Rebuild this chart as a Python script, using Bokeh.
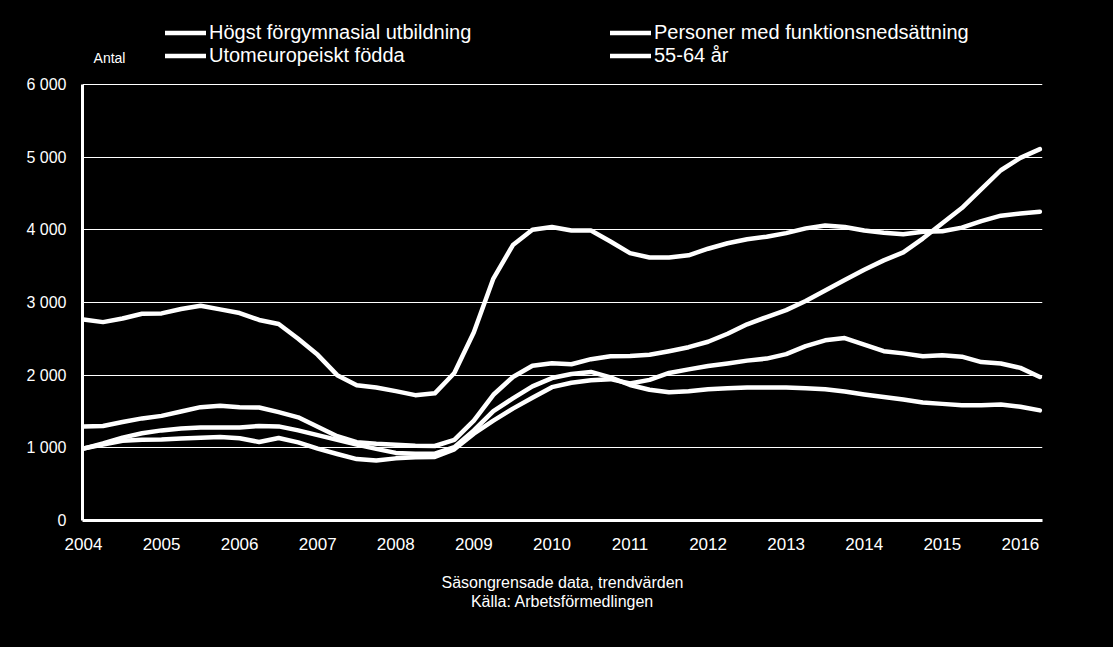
from bokeh.plotting import figure
from bokeh.models import Range1d, FixedTicker, Legend, LegendItem, Label
from bokeh.embed import file_html
from bokeh.resources import INLINE

# ---------------- data ----------------
years = ["2004", "2005", "2006", "2007", "2008", "2009", "2010",
         "2011", "2012", "2013", "2014", "2015", "2016"]
year_start_month = [0, 12, 24, 36, 48, 60, 72, 84, 96, 108, 120, 132, 144]

# quarterly observations, month index (0 = Jan 2004 ... 147 = Apr 2016)
month_index = list(range(0, 148, 3))

personer_funktionsnedsattning = [
    2765, 2730, 2780, 2845, 2850, 2910, 2955, 2905, 2855, 2760,
    2705, 2500, 2280, 2000, 1860, 1830, 1780, 1725, 1750, 2030,
    2590, 3330, 3790, 4000, 4040, 3990, 3990, 3840, 3680, 3620,
    3620, 3650, 3740, 3815, 3870, 3905, 3955, 4020, 4060, 4040,
    3990, 3960, 3940, 3975, 3980, 4030, 4120, 4195, 4225, 4250]

utomeuropeiskt_fodda = [
    1295, 1300, 1355, 1405, 1440, 1500, 1560, 1578, 1557, 1555,
    1492, 1420, 1290, 1160, 1078, 1055, 1042, 1028, 1025, 1110,
    1375, 1730, 1975, 2130, 2165, 2150, 2220, 2260, 2265, 2280,
    2330, 2385, 2460, 2570, 2700, 2800, 2895, 3020, 3165, 3310,
    3450, 3580, 3690, 3880, 4090, 4300, 4560, 4820, 4990, 5110]

hogst_forgymnasial = [
    990, 1045, 1098, 1112, 1115, 1128, 1140, 1150, 1132, 1080,
    1135, 1075, 990, 915, 845, 825, 855, 870, 875, 980,
    1195, 1375, 1540, 1690, 1835, 1895, 1930, 1945, 1885, 1935,
    2030, 2080, 2125, 2160, 2200, 2228, 2290, 2400, 2480, 2510,
    2420, 2330, 2300, 2260, 2275, 2255, 2180, 2160, 2100, 1975]

ar_55_64 = [
    990, 1060, 1140, 1200, 1240, 1265, 1280, 1280, 1280, 1302,
    1295, 1240, 1175, 1110, 1045, 985, 930, 920, 920, 1010,
    1240, 1505, 1680, 1845, 1960, 2015, 2045, 1970, 1865, 1800,
    1765, 1780, 1805, 1820, 1830, 1830, 1830, 1820, 1805, 1775,
    1735, 1700, 1665, 1625, 1605, 1585, 1585, 1595, 1565, 1515]

y_ticks = [0, 1000, 2000, 3000, 4000, 5000, 6000]
y_tick_labels = ["0", "1 000", "2 000", "3 000", "4 000", "5 000", "6 000"]

FONT = "Liberation Sans"
W, H = 1113, 647
FRAME_L, FRAME_R, FRAME_B = 82, 1042, 520
PX_PER_6000 = 436  # pixels between 0 and 6000

p = figure(width=W, height=H, output_backend="svg", toolbar_location=None,
           x_range=Range1d(-0.15, 147.4),
           y_range=Range1d(0, 6000 * FRAME_B / PX_PER_6000),
           min_border_left=FRAME_L, min_border_right=W - FRAME_R,
           min_border_top=0, min_border_bottom=H - FRAME_B,
           background_fill_color="black", border_fill_color="black",
           outline_line_color=None)

# grid
p.xgrid.visible = False
p.ygrid.ticker = FixedTicker(ticks=y_ticks[1:])
p.ygrid.grid_line_color = "white"
p.ygrid.grid_line_width = 1

# axes
p.yaxis.ticker = FixedTicker(ticks=y_ticks)
p.yaxis.bounds = (0, 6000)
p.yaxis.major_label_overrides = {t: l for t, l in zip(y_ticks, y_tick_labels)}
p.xaxis.ticker = FixedTicker(ticks=year_start_month)
p.xaxis.major_label_overrides = {m: y for m, y in zip(year_start_month, years)}
for ax in (p.xaxis[0], p.yaxis[0]):
    ax.axis_line_color = "white"
    ax.axis_line_width = 3
    ax.major_tick_line_color = None
    ax.minor_tick_line_color = None
    ax.major_label_text_color = "white"
    ax.major_label_text_font = FONT
p.yaxis.major_label_text_font_size = "16px"
p.yaxis.major_label_standoff = 10
p.xaxis.major_label_text_font_size = "17px"
p.xaxis.major_label_standoff = 11

# footer as x-axis label (two lines)
p.xaxis.axis_label = "Säsongrensade data, trendvärden\nKälla: Arbetsförmedlingen"
p.xaxis.axis_label_text_font = FONT
p.xaxis.axis_label_text_font_size = "16px"
p.xaxis.axis_label_text_font_style = "normal"
p.xaxis.axis_label_text_color = "white"
p.xaxis.axis_label_text_line_height = 1.15
p.xaxis.axis_label_standoff = 21

style = dict(line_color="white", line_width=4.5, line_join="round", line_cap="round")
r_a = p.line(month_index, personer_funktionsnedsattning, **style)
r_b = p.line(month_index, utomeuropeiskt_fodda, **style)
r_c = p.line(month_index, hogst_forgymnasial, **style)
r_d = p.line(month_index, ar_55_64, **style)

legend_style = dict(label_text_font=FONT, label_text_font_size="20px",
                    label_text_color="white", glyph_width=41, glyph_height=23,
                    label_height=23, label_standoff=3, spacing=0, padding=0,
                    margin=0, background_fill_alpha=0, border_line_alpha=0)
leg1 = Legend(items=[LegendItem(label="Högst förgymnasial utbildning", renderers=[r_c]),
                     LegendItem(label="Utomeuropeiskt födda", renderers=[r_b])],
              location=(83, 453), **legend_style)
leg2 = Legend(items=[LegendItem(label="Personer med funktionsnedsättning", renderers=[r_a]),
                     LegendItem(label="55-64 år", renderers=[r_d])],
              location=(528, 453), **legend_style)
p.add_layout(leg1)
p.add_layout(leg2)

p.add_layout(Label(x=4.0, y=6371, text="Antal", text_font=FONT, text_font_size="14px",
                   text_color="white", text_align="center", text_baseline="middle"))

html = file_html(p, INLINE, title="Chart")
html = html.replace("</head>", "<style>html, body { background: #000; }</style></head>", 1)
open("out.html", "w").write(html)
